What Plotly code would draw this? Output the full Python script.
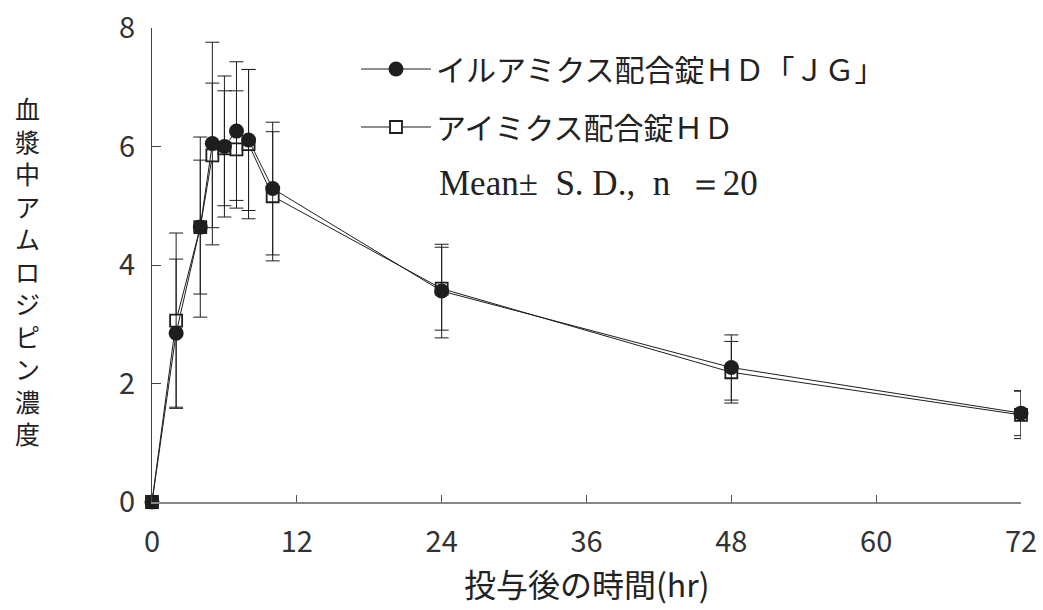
import plotly.graph_objects as go

time_hr = [0, 2, 4, 5, 6, 7, 8, 10, 24, 48, 72]
test_mean = [0.0, 2.85, 4.64, 6.05, 6.00, 6.26, 6.11, 5.29, 3.56, 2.27, 1.50]
test_sd = [0.0, 1.25, 1.13, 1.71, 1.19, 1.17, 1.19, 1.12, 0.79, 0.55, 0.38]
ref_mean = [0.0, 3.06, 4.64, 5.85, 5.97, 5.95, 6.04, 5.16, 3.60, 2.19, 1.47]
ref_sd = [0.0, 1.48, 1.52, 1.22, 0.97, 0.99, 1.26, 1.09, 0.70, 0.52, 0.40]

test_name = "イルアミクス配合錠ＨＤ「ＪＧ」"
ref_name = "アイミクス配合錠ＨＤ"
note_text = "Mean±\u2002S. D.,\u2002n\u2002＝20"
x_title = "投与後の時間(hr)"
y_title = "血漿中アムロジピン濃度"
x_ticks = [0, 12, 24, 36, 48, 60, 72]
y_ticks = [0, 2, 4, 6, 8]

FONT = "Noto Sans CJK JP"
SERIF = "Liberation Serif"
INK = "#1e1e1e"

# plot-area geometry in pixels (used to place free text)
L, R, T, B = 152, 22, 28, 108
W, H = 1043, 610
PW, PH = W - L - R, H - T - B


def px_x(px):
    return (px - L) / PW


def px_y(py):
    return (H - B - py) / PH


fig = go.Figure()

fig.add_trace(go.Scatter(
    x=time_hr, y=ref_mean, name=ref_name, mode="lines+markers",
    line=dict(color=INK, width=1),
    marker=dict(symbol="square", size=12, color="white", line=dict(color=INK, width=1.8)),
    error_y=dict(type="data", array=ref_sd, visible=True, color=INK, thickness=1, width=7),
    cliponaxis=False, legendrank=2, legendgroup="b",
))
fig.add_trace(go.Scatter(
    x=time_hr, y=test_mean, name=test_name, mode="lines+markers",
    line=dict(color=INK, width=1),
    marker=dict(symbol="circle", size=15, color=INK),
    error_y=dict(type="data", array=test_sd, visible=True, color=INK, thickness=1, width=7),
    cliponaxis=False, legendrank=1, legendgroup="a",
))

annotations = [
    dict(text="<br>".join(y_title), xref="paper", yref="paper",
         x=px_x(27), y=px_y(270), xanchor="center", yanchor="middle",
         showarrow=False, align="center",
         font=dict(size=25, color="#222", family=FONT)),
    dict(text=note_text, xref="paper", yref="paper", x=px_x(437), y=px_y(183),
         xanchor="left", yanchor="middle", showarrow=False,
         font=dict(size=35, color="#222", family=SERIF)),
    dict(text=x_title, xref="paper", yref="paper", x=px_x(586), y=px_y(583),
         xanchor="center", yanchor="middle", showarrow=False,
         font=dict(size=32, color="#222", family=FONT)),
]

fig.update_layout(
    width=W, height=H,
    margin=dict(l=L, r=R, t=T, b=B, autoexpand=False),
    paper_bgcolor="white", plot_bgcolor="white",
    font=dict(family=FONT, color="#222", size=28),
    showlegend=True,
    legend=dict(
        x=px_x(356), y=px_y(43), xanchor="left", yanchor="top",
        bgcolor="rgba(0,0,0,0)", font=dict(family=FONT, size=30, color="#222"),
        tracegroupgap=16, itemsizing="trace", itemwidth=70,
    ),
    xaxis=dict(
        range=[0, 72], tickvals=x_ticks, ticks="inside", ticklen=7, tickcolor="#555",
        showline=True, linecolor="#888", linewidth=1.5, showgrid=False, zeroline=False,
        tickfont=dict(size=29, color="#333"), ticklabelstandoff=13, automargin=False,
    ),
    yaxis=dict(
        range=[0, 8], tickvals=y_ticks, ticks="inside", ticklen=9, tickcolor="#444",
        showline=True, linecolor="#444", linewidth=1, showgrid=False, zeroline=False,
        tickfont=dict(size=29, color="#333"), ticklabelstandoff=10, automargin=False,
    ),
    annotations=annotations,
)

fig.write_html("out.html")
